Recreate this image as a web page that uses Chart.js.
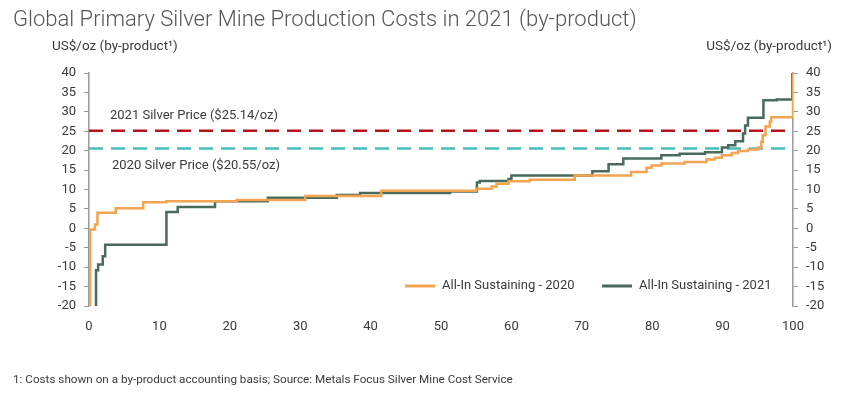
<!DOCTYPE html>
<html lang="en">
<head>
    <meta charset="utf-8">
    <title>Global Primary Silver Mine Production Costs in 2021</title>
    <style>
        html, body { margin: 0; padding: 0; background: #fff; }
        #chart { display: block; }
    </style>
</head>
<body>
    <canvas id="chart" width="841" height="394"></canvas>
    <script src="https://cdn.jsdelivr.net/npm/chart.js@4.4.1/dist/chart.umd.min.js"></script>
    <script>
        // cumulative production (%) where each step starts, and the cost (US$/oz) from there on
        var pct2020  = [0.15, 0.15, 0.85, 1.2, 3.8, 7.7, 11, 21, 30.7, 41.5, 55, 57.2, 57.9, 59.6, 62.6, 69, 77, 79.2, 79.9, 81.3, 84.6, 87.7, 88.9, 89.9, 91.3, 92.2, 93.6, 95.0, 95.5, 95.7, 96.1, 96.7, 96.9, 100];
        var cost2020 = [-20, -0.3, 1.0, 4.0, 5.2, 6.7, 7.0, 7.3, 8.3, 9.7, 10.2, 10.8, 11.5, 12.1, 12.5, 13.6, 14.5, 15.6, 16.2, 16.7, 17.1, 17.7, 18.2, 18.8, 19.4, 19.9, 20.3, 20.8, 22.3, 24.0, 26.2, 27.5, 28.6, 40];

        var pct2021  = [1.0, 1.0, 1.3, 1.95, 2.3, 11.0, 12.6, 17.9, 25.4, 35.2, 38.5, 51.3, 55.1, 55.5, 59.6, 60, 71.5, 73.8, 75.9, 81.3, 83.9, 87.5, 89.9, 90.8, 91.8, 92.9, 93.2, 93.6, 95.8, 97.7, 99.9];
        var cost2021 = [-20, -10.8, -9.3, -7.2, -4.2, 4.2, 5.5, 7.0, 7.9, 8.6, 9.1, 9.5, 11.8, 12.2, 12.7, 13.6, 14.7, 16.5, 18.0, 18.8, 19.2, 19.6, 20.8, 21.4, 22.4, 24.4, 26.5, 28.5, 33.0, 33.2, 40];

        var price2021 = 25.14;
        var price2020 = 20.55;
        var xTicks = [0, 100];
        var yTicks = [-20, 40];

        var orange = '#F2A450';
        var green = '#4A6B5B';
        var red = '#B3141E';
        var teal = '#48BDBA';
        var textColor = '#3a3a3a';

        function toPoints(xs, ys) {
            return xs.map(function (x, i) { return { x: x, y: ys[i] }; });
        }

        var drawText = {
            id: 'drawText',
            afterDraw: function (chart) {
                var ctx = chart.ctx;
                var y = chart.scales.y;
                ctx.save();
                ctx.textBaseline = 'middle';

                ctx.fillStyle = '#555';
                ctx.font = '300 22px Roboto';
                ctx.textAlign = 'left';
                ctx.fillText('Global Primary Silver Mine Production Costs in 2021 (by-product)', 13, 20);

                ctx.fillStyle = textColor;
                ctx.font = '13.5px Roboto';
                ctx.fillText('US$/oz (by-product\u00B9)', 52, 47);
                ctx.textAlign = 'right';
                ctx.fillText('US$/oz (by-product\u00B9)', 832, 47);

                ctx.textAlign = 'left';
                ctx.font = '13px Roboto';
                ctx.fillText('2021 Silver Price ($' + price2021.toFixed(2) + '/oz)', 110, y.getPixelForValue(price2021) - 15);
                ctx.fillText('2020 Silver Price ($' + price2020.toFixed(2) + '/oz)', 112, y.getPixelForValue(price2020) + 17);

                // legend for the two cost curves
                var lx = [405, 602];
                chart.data.datasets.slice(0, 2).forEach(function (ds, i) {
                    ctx.strokeStyle = ds.borderColor;
                    ctx.lineWidth = 3;
                    ctx.beginPath();
                    ctx.moveTo(lx[i], 286);
                    ctx.lineTo(lx[i] + 30, 286);
                    ctx.stroke();
                    ctx.fillStyle = textColor;
                    ctx.font = '13px Roboto';
                    ctx.fillText(ds.label, lx[i] + 37, 286);
                });

                ctx.font = '11.7px Roboto';
                ctx.fillText('1: Costs shown on a by-product accounting basis; Source: Metals Focus Silver Mine Cost Service', 13, 380);
                ctx.restore();
            }
        };

        var yAxis = function (pos, width) {
            return {
                type: 'linear',
                position: pos,
                min: yTicks[0],
                max: yTicks[1],
                ticks: { stepSize: 5, color: textColor, font: { family: 'Roboto', size: 13 }, padding: 8 },
                grid: { drawOnChartArea: false, color: '#9a9a9a', tickLength: 5 },
                border: { display: true, color: '#9a9a9a', width: 1.5 },
                afterFit: function (scale) { scale.width = width; }
            };
        };

        var ctx = document.getElementById('chart');
        var chart = new Chart(ctx, {
            type: 'line',
            data: {
                datasets: [
                    { label: 'All-In Sustaining - 2020', data: toPoints(pct2020, cost2020), borderColor: orange, borderWidth: 2.5, stepped: true, pointRadius: 0 },
                    { label: 'All-In Sustaining - 2021', data: toPoints(pct2021, cost2021), borderColor: green, borderWidth: 2.5, stepped: true, pointRadius: 0 },
                    { label: '2021 Silver Price', data: toPoints(xTicks, [price2021, price2021]), borderColor: red, borderWidth: 2.5, borderDash: [14, 8], pointRadius: 0 },
                    { label: '2020 Silver Price', data: toPoints(xTicks, [price2020, price2020]), borderColor: teal, borderWidth: 2.5, borderDash: [14, 8], pointRadius: 0 }
                ]
            },
            options: {
                responsive: false,
                animation: false,
                layout: { padding: { top: 73, left: 0, right: 0, bottom: 0 } },
                plugins: { legend: { display: false }, tooltip: { enabled: false } },
                scales: {
                    x: {
                        type: 'linear',
                        min: xTicks[0],
                        max: xTicks[1],
                        ticks: { stepSize: 10, color: textColor, font: { family: 'Roboto', size: 13 }, padding: 5 },
                        grid: { display: false },
                        border: { display: false },
                        afterFit: function (scale) { scale.height = 88; }
                    },
                    y: yAxis('left', 89),
                    y2: yAxis('right', 48)
                }
            },
            plugins: [drawText]
        });
    </script>
</body>
</html>
